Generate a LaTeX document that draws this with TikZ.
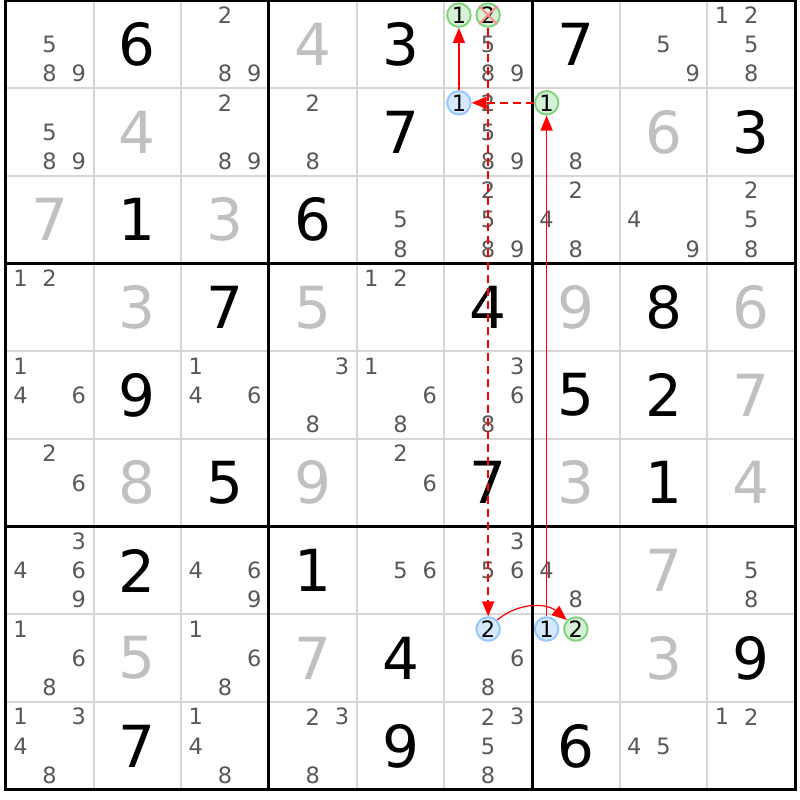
\documentclass[tikz,border=0pt]{standalone}
\usepackage{fontspec}
\setmainfont{DejaVu Sans}
\usetikzlibrary{arrows.meta}
\definecolor{candc}{RGB}{88,88,88}
\definecolor{solvc}{RGB}{192,192,192}
\definecolor{thinc}{RGB}{214,214,214}
\definecolor{gfill}{RGB}{214,242,214}
\definecolor{gline}{RGB}{130,212,130}
\definecolor{bfill}{RGB}{214,234,255}
\definecolor{bline}{RGB}{150,200,255}
\definecolor{arrred}{RGB}{255,0,0}
\definecolor{crossc}{RGB}{255,140,140}
\def\GX{5.8}\def\GY{0.5}\def\GC{87.7}
\begin{document}
\begin{tikzpicture}[x=1pt,y=-1pt,
  givendig/.style={font=\fontsize{58}{58}\selectfont, text=black, inner sep=0pt},
  solveddig/.style={font=\fontsize{58}{58}\selectfont, text=solvc, inner sep=0pt},
  canddig/.style={font=\fontsize{22.5}{22.5}\selectfont, text=candc, inner sep=0pt},
  ringg/.style={circle, draw=gline, fill=gfill, line width=2pt, minimum size=23.5pt, inner sep=0pt, font=\fontsize{22.5}{22.5}\selectfont, text=black},
  ringb/.style={circle, draw=bline, fill=bfill, line width=2pt, minimum size=23.5pt, inner sep=0pt, font=\fontsize{22.5}{22.5}\selectfont, text=black},
  thinline/.style={draw=thinc, line width=2pt},
  thickline/.style={draw=black, line width=3pt},
  chainsolid/.style={draw=arrred, line width=1.4pt, -{Triangle[length=15pt,width=12pt]}},
  chaindash/.style={draw=arrred, line width=1.6pt, dash pattern=on 8pt off 5pt, -{Triangle[length=15pt,width=12pt]}},
  crossline/.style={draw=crossc, line width=2pt}
]
\useasboundingbox (0,0) rectangle (800,800);
\fill[white] (0,0) rectangle (800,800);
% thin grid
\foreach \i in {1,2,4,5,7,8}{
  \draw[thinline] ({\GX+\i*\GC},\GY) -- ({\GX+\i*\GC},{\GY+9*\GC});
  \draw[thinline] (\GX,{\GY+\i*\GC}) -- ({\GX+9*\GC},{\GY+\i*\GC});
}
% thick grid
\foreach \i in {0,3,6,9}{
  \draw[thickline] ({\GX+\i*\GC},{\GY-1.5}) -- ({\GX+\i*\GC},{\GY+9*\GC+1.5});
  \draw[thickline] ({\GX-1.5},{\GY+\i*\GC}) -- ({\GX+9*\GC+1.5},{\GY+\i*\GC});
}
% given digits
\foreach \r/\c/\d in {1/2/6,1/5/3,1/7/7,2/5/7,2/9/3,3/2/1,3/4/6,4/3/7,4/6/4,4/8/8,5/2/9,5/7/5,5/8/2,6/3/5,6/6/7,6/8/1,7/2/2,7/4/1,8/5/4,8/9/9,9/2/7,9/5/9,9/7/6}{
  \node[givendig] (g\r\c) at ({\GX+(\c-0.5)*\GC},{\GY+(\r-0.5)*\GC}) {\d};
}
% solved digits
\foreach \r/\c/\d in {1/4/4,2/2/4,2/8/6,3/1/7,3/3/3,4/2/3,4/4/5,4/7/9,4/9/6,5/9/7,6/2/8,6/4/9,6/7/3,6/9/4,7/8/7,8/2/5,8/4/7,8/8/3}{
  \node[solveddig] (s\r\c) at ({\GX+(\c-0.5)*\GC},{\GY+(\r-0.5)*\GC}) {\d};
}
% candidates
\foreach \r/\c/\d in {
 1/1/5,1/1/8,1/1/9,1/3/2,1/3/8,1/3/9,1/6/5,1/6/8,1/6/9,1/8/5,1/8/9,1/9/1,1/9/2,1/9/5,1/9/8,
 2/1/5,2/1/8,2/1/9,2/3/2,2/3/8,2/3/9,2/4/2,2/4/8,2/6/2,2/6/5,2/6/8,2/6/9,2/7/8,
 3/5/5,3/5/8,3/6/2,3/6/5,3/6/8,3/6/9,3/7/2,3/7/4,3/7/8,3/8/4,3/8/9,3/9/2,3/9/5,3/9/8,
 4/1/1,4/1/2,4/5/1,4/5/2,
 5/1/1,5/1/4,5/1/6,5/3/1,5/3/4,5/3/6,5/4/3,5/4/8,5/5/1,5/5/6,5/5/8,5/6/3,5/6/6,5/6/8,
 6/1/2,6/1/6,6/5/2,6/5/6,
 7/1/3,7/1/4,7/1/6,7/1/9,7/3/4,7/3/6,7/3/9,7/5/5,7/5/6,7/6/3,7/6/5,7/6/6,7/7/4,7/7/8,7/9/5,7/9/8,
 8/1/1,8/1/6,8/1/8,8/3/1,8/3/6,8/3/8,8/6/6,8/6/8,
 9/1/1,9/1/3,9/1/4,9/1/8,9/3/1,9/3/4,9/3/8,9/4/2,9/4/3,9/4/8,9/6/2,9/6/3,9/6/5,9/6/8,9/8/4,9/8/5,9/9/1,9/9/2}{
  \pgfmathtruncatemacro\sr{(\d-1)/3}
  \pgfmathtruncatemacro\sc{mod(\d-1,3)}
  \node[canddig] (k\r\c\d) at ({\GX+(\c-1)*\GC+(2*\sc+1)*\GC/6},{\GY+(\r-1)*\GC+(2*\sr+1)*\GC/6}) {\d};
}
% circled candidates
\node[ringg] (k161) at ({\GX+5*\GC+\GC/6},{\GY+\GC/6}) {1};
\node[ringg] (k162) at ({\GX+5*\GC+3*\GC/6},{\GY+\GC/6}) {2};
\node[ringb] (k261) at ({\GX+5*\GC+\GC/6},{\GY+\GC+\GC/6}) {1};
\node[ringg] (k271) at ({\GX+6*\GC+\GC/6},{\GY+\GC+\GC/6}) {1};
\node[ringb] (k862) at ({\GX+5*\GC+3*\GC/6},{\GY+7*\GC+\GC/6}) {2};
\node[ringb] (k871) at ({\GX+6*\GC+\GC/6},{\GY+7*\GC+\GC/6}) {1};
\node[ringg] (k872) at ({\GX+6*\GC+3*\GC/6},{\GY+7*\GC+\GC/6}) {2};
% elimination cross
\draw[crossline] (k162.north west) -- (k162.south east);
\draw[crossline] (k162.north east) -- (k162.south west);
% chain
\draw[chainsolid] (k261) -- (k161);
\draw[chaindash] (k271) -- (k261);
\draw[chainsolid] (k871) -- (k271);
\draw[chaindash] (k162) -- (k862);
\draw[chainsolid, line width=1.2pt] (k862.north east) to[bend left=40] (k872.north west);
\end{tikzpicture}
\end{document}
